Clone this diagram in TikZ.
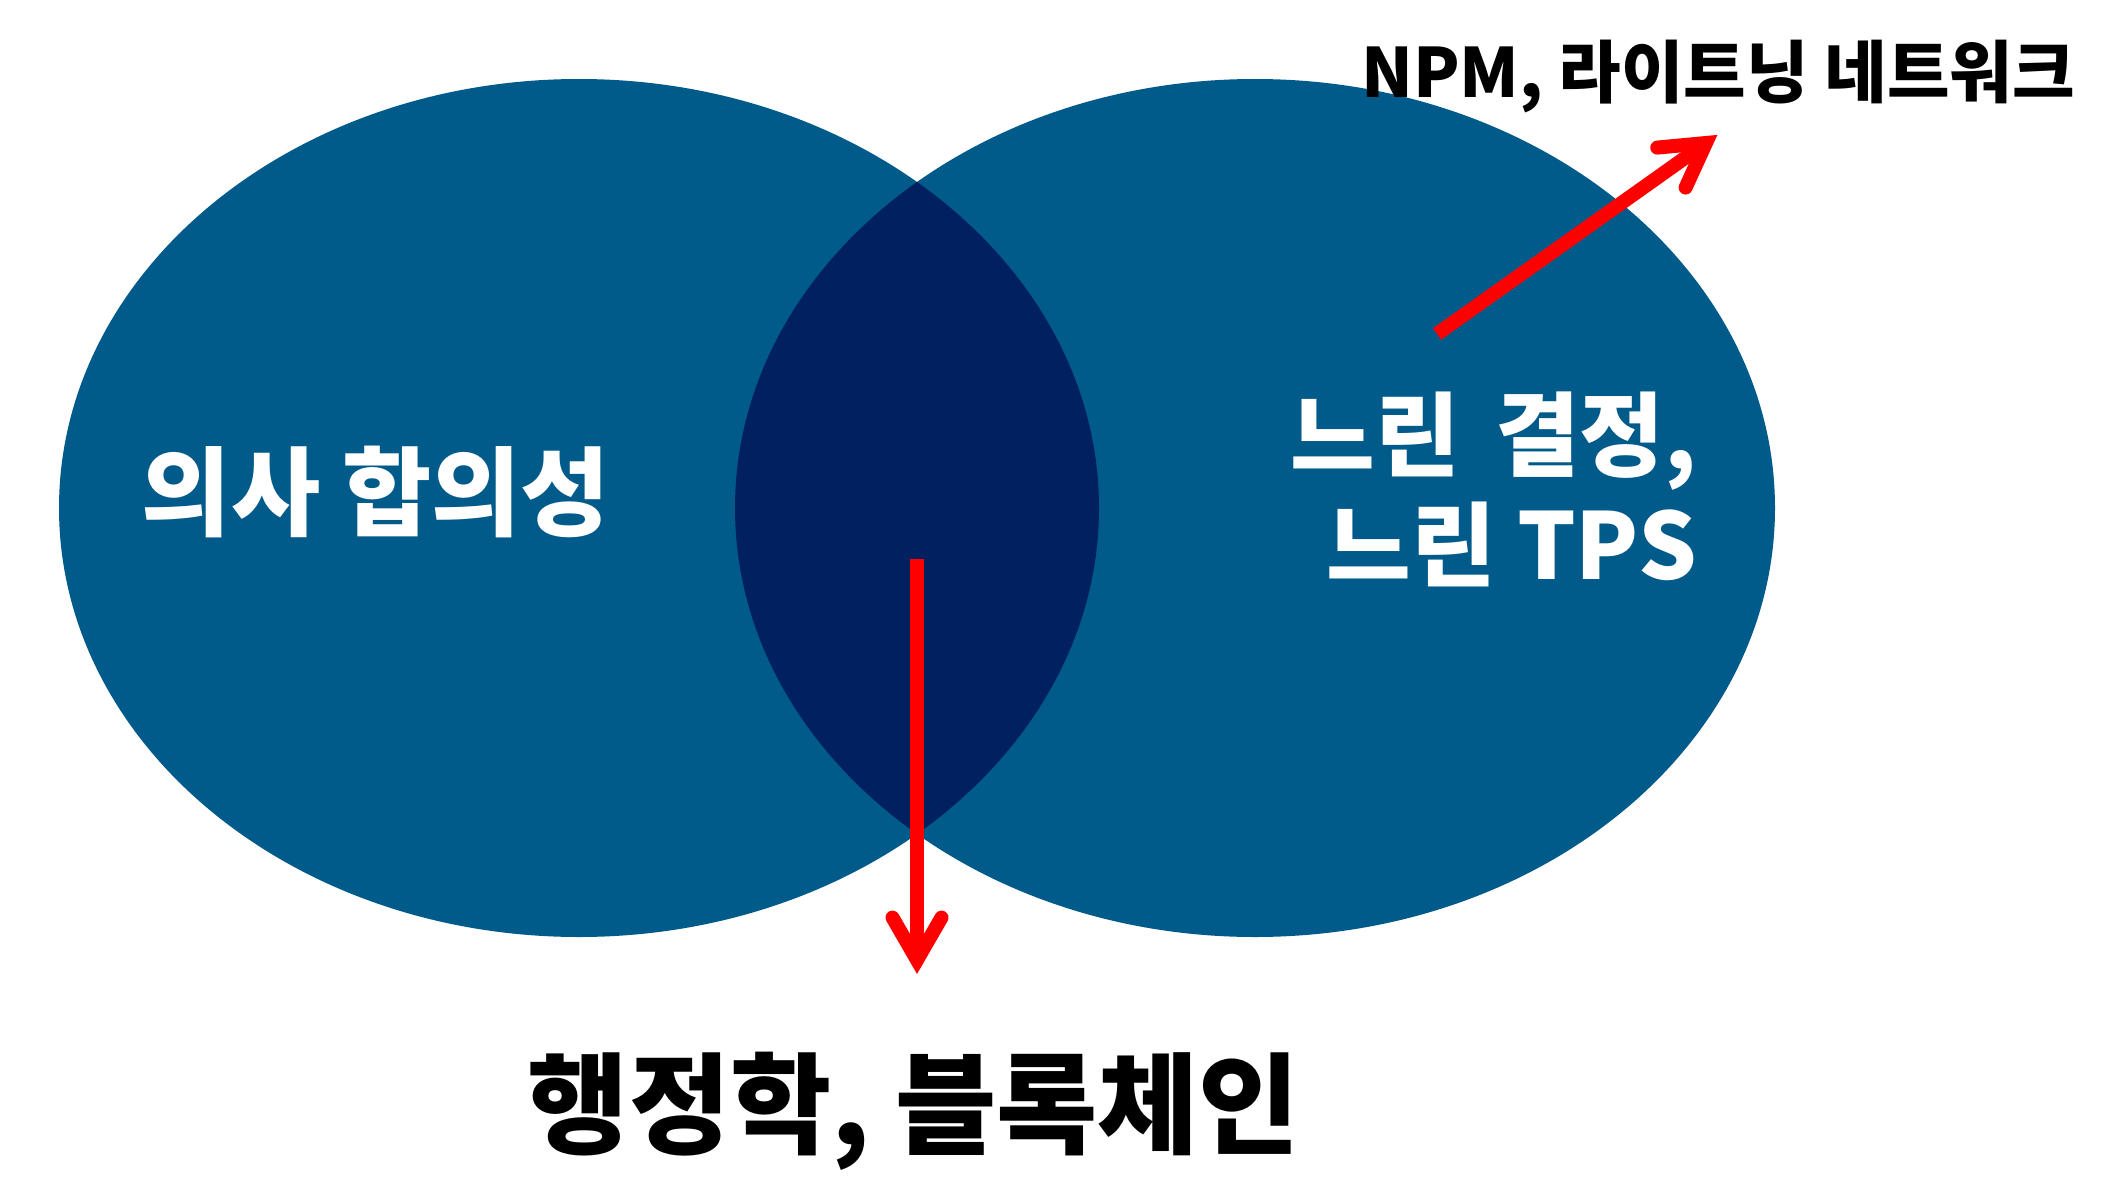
\documentclass[tikz,border=0pt]{standalone}
\usepackage{fontspec}
\setmainfont{Noto Sans CJK KR}
\usetikzlibrary{calc}
\definecolor{vennblue}{RGB}{0,90,138}
\definecolor{venndark}{RGB}{0,32,96}
\definecolor{arrowred}{RGB}{255,0,0}
\begin{document}
\begin{tikzpicture}[x=1pt,y=-1pt,
  setfill/.style={fill=vennblue},
  lens/.style={fill=venndark},
  redline/.style={draw=arrowred, line width=14pt, line cap=butt},
  barbline/.style={draw=arrowred, line width=14pt, line cap=round, line join=miter},
  whitelabel/.style={text=white, font=\bfseries\fontsize{92}{110}\selectfont, inner sep=0pt},
  blacklabel/.style={text=black, inner sep=0pt}]
\useasboundingbox (0,0) rectangle (2120,1196);
% sets
\path[setfill] (579,508) ellipse [x radius=520pt, y radius=429pt];
\path[setfill] (1255,508) ellipse [x radius=520pt, y radius=429pt];
\begin{scope}
  \clip (579,508) ellipse [x radius=520pt, y radius=429pt];
  \path[lens] (1255,508) ellipse [x radius=520pt, y radius=429pt];
\end{scope}
% labels
\node[whitelabel, font=\bfseries\fontsize{97}{110}\selectfont] (leftlab) at (376,492) {의사 합의성};
\node[whitelabel, align=right, anchor=east] (rightlab) at (1697,489) {느린\hspace{14pt} 결정,\\느린 TPS};
\node[blacklabel, font=\bfseries\fontsize{110}{130}\selectfont] (bottomlab) at (914,1111) {행정학, 블록체인};
\node[blacklabel, font=\bfseries\fontsize{68}{80}\selectfont] (npmlab) at (1718,76) {NPM, 라이트닝 네트워크};
% down arrow
\coordinate (dtail) at (917,559);
\coordinate (dtip) at (917,960);
\draw[redline] (dtail) -- (dtip);
\draw[barbline] ($(dtip)!49pt!30:(dtail)$) -- (dtip) -- ($(dtip)!49pt!-30:(dtail)$);
% up-right arrow
\coordinate (utail) at (1437,334);
\coordinate (utip) at (1706,143);
\draw[redline] (utail) -- (utip);
\draw[barbline] ($(utip)!49pt!30:(utail)$) -- (utip) -- ($(utip)!49pt!-30:(utail)$);
\end{tikzpicture}
\end{document}
